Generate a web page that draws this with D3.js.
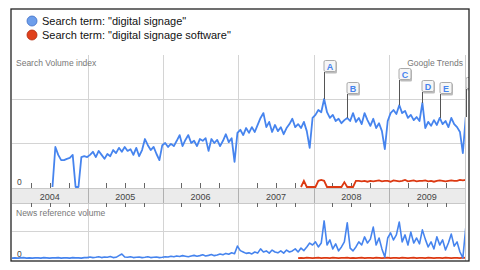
<!DOCTYPE html>
<html>
<head>
<meta charset="utf-8">
<script src="https://cdn.jsdelivr.net/npm/d3@7"></script>
<style>
  html, body { margin: 0; padding: 0; background: #fff; }
  svg { display: block; font-family: "Liberation Sans", Arial, sans-serif; }
</style>
</head>
<body>
<svg id="chart" width="480" height="270"></svg>
<script>
// series labels
const seriesNames = ['Search term: "digital signage"', 'Search term: "digital signage software"'];
const seriesColors = ['#4684ee', '#dc3912'];

// one sample every two weeks, starting 2004-01-01 (158 samples)
const periodStart = new Date(2004, 0, 1);
const periods = d3.range(158).map((i) => d3.timeDay.offset(periodStart, i * 14));

const years = [2004, 2005, 2006, 2007, 2008, 2009];

// search volume index, "digital signage" (null = no data)
const searchSignage = [].concat(
  d3.range(14).map(() => null),
  [0, 0.91, 0.73, 0.61, 0.61, 0.64, 0.66, 0.73, 0, 0, 0.68, 0.70, 0.68],
  [0.73, 0.80, 0.68, 0.82, 0.73, 0.64, 0.75, 0.70, 0.84, 0.77, 0.89, 0.80, 0.91, 0.82, 0.86, 0.73, 0.89, 0.70, 0.84, 1.09, 0.95, 0.84, 0.91, 0.75, 0.61, 0.95],
  [1.00, 0.91, 0.98, 0.93, 1.05, 1.18, 0.93, 1.07, 1.18, 1.00, 1.05, 0.93, 1.09, 1.05, 1.11, 0.82, 1.09, 1.00, 1.07, 0.93, 1.05, 1.20, 1.02, 1.11, 0.57, 1.23],
  [1.30, 1.18, 1.34, 1.23, 1.36, 1.25, 1.41, 1.57, 1.68, 1.36, 1.48, 1.25, 1.41, 1.27, 1.36, 1.20, 1.34, 1.43, 1.55, 1.36, 1.43, 1.34, 1.48, 1.27, 0.89, 1.57],
  [1.64, 1.75, 1.70, 2.00, 1.70, 1.57, 1.64, 1.50, 1.55, 1.45, 1.52, 1.57, 1.50, 1.68, 1.48, 1.57, 1.43, 1.68, 1.52, 1.39, 1.55, 1.34, 1.45, 1.27, 0.86, 1.50],
  [1.68, 1.75, 1.66, 1.86, 1.68, 1.73, 1.57, 1.64, 1.52, 1.59, 1.50, 1.91, 1.34, 1.48, 1.39, 1.52, 1.41, 1.57, 1.43, 1.50, 1.36, 1.57, 1.43, 1.36, 1.25, 0.77, 1.59]
);

// search volume index, "digital signage software"
const searchSoftware = [].concat(
  d3.range(100).map(() => null),
  [0, 0.14, 0, 0, 0, 0, 0.14, 0.16, 0.14, 0, 0, 0, 0, 0, 0, 0.11, 0, 0, 0, 0.14],
  [0.14, 0.13, 0.14, 0.12, 0.14, 0.13, 0.14, 0.15, 0.13, 0.14, 0.14, 0.12, 0.15, 0.14, 0.13, 0.14, 0.16, 0.13, 0.14, 0.15,
   0.13, 0.14, 0.14, 0.15, 0.13, 0.14, 0.12, 0.14, 0.15, 0.14, 0.13, 0.14, 0.15, 0.14, 0.14, 0.16, 0.15, 0.16]
);

// news reference volume, "digital signage"
const newsSignage = [].concat(
  [0.03, 0.04, 0.03, 0.04, 0.05, 0.03, 0.04, 0.03, 0.04, 0.04, 0.03, 0.05, 0.04, 0.03, 0.04, 0.04, 0.05, 0.03, 0.04, 0.04, 0.03, 0.05, 0.04, 0.04, 0.03, 0.05],
  [0.05, 0.07, 0.05, 0.06, 0.08, 0.05, 0.07, 0.06, 0.09, 0.05, 0.06, 0.12, 0.18, 0.07, 0.06, 0.08, 0.05, 0.06, 0.07, 0.05, 0.06, 0.08, 0.05, 0.06, 0.07, 0.05],
  [0.06, 0.08, 0.07, 0.10, 0.08, 0.11, 0.09, 0.12, 0.10, 0.08, 0.11, 0.13, 0.10, 0.12, 0.15, 0.11, 0.13, 0.16, 0.12, 0.14, 0.18, 0.15, 0.20, 0.17, 0.22, 0.19],
  [0.46, 0.30, 0.25, 0.20, 0.22, 0.18, 0.25, 0.21, 0.36, 0.25, 0.29, 0.21, 0.32, 0.25, 0.22, 0.29, 0.21, 0.32, 0.25, 0.29, 0.36, 0.25, 0.39, 0.30, 0.43, 0.57],
  [0.50, 0.61, 0.43, 0.57, 1.36, 0.50, 0.68, 0.36, 0.54, 0.29, 0.43, 0.61, 1.29, 0.39, 0.29, 0.43, 0.61, 0.50, 0.79, 0.57, 0.71, 1.14, 0.50, 0.75, 0.36, 0.07],
  [0.75, 0.93, 0.68, 0.86, 1.32, 0.61, 0.86, 0.50, 0.96, 0.57, 0.75, 0.54, 1.04, 0.71, 0.43, 0.61, 0.36, 0.79, 0.50, 0.68, 0.32, 0.57, 0.89, 0.46, 0.61, 0.25, 0.04, 1.11]
);

// news reference volume, "digital signage software"
const newsSoftware = [].concat(
  d3.range(99).map(() => null),
  [0.03, 0.04, 0.03, 0.05, 0.04, 0.03, 0.04, 0.05, 0.03, 0.04, 0.04, 0.03, 0.05, 0.04, 0.03, 0.04, 0.04, 0.05, 0.03, 0.04,
   0.03, 0.04, 0.05, 0.03, 0.04, 0.04, 0.03, 0.05, 0.04, 0.03, 0.04, 0.05, 0.03, 0.04, 0.04, 0.03, 0.05, 0.04, 0.03, 0.04,
   0.05, 0.03, 0.04, 0.04, 0.03, 0.05, 0.04, 0.03, 0.04, 0.04, 0.03, 0.05, 0.04, 0.03, 0.04, 0.04, 0.03, 0.05, 0.04]
);

// news headline markers: letter and sample index on the search line
const markerLetters = ['A', 'B', 'C', 'D', 'E', 'F'];
const markerPeriods = [108, 116, 134, 142, 148, 157];

const svg = d3.select('#chart');
const frame = { left: 11, top: 9, right: 469, bottom: 261 };
const plotL = 12, plotR = 465;
const main = { top: 55, zero: 187 };
const band = { top: 188, bottom: 203 };
const news = { top: 207, zero: 259 };

const x = d3.scaleTime()
  .domain([new Date(2004, 0, 1), new Date(2010, 0, 1)])
  .range([plotL, 464.5]);
const yMain = d3.scaleLinear().domain([0, 3]).range([main.zero, main.top]);
const yNews = d3.scaleLinear().domain([0, 1]).range([news.zero, news.zero - 28]);

svg.append('defs').append('clipPath').attr('id', 'plotClip')
  .append('rect').attr('x', plotL).attr('y', 0).attr('width', plotR - plotL + 1).attr('height', 270);
svg.append('defs').append('clipPath').attr('id', 'frameClip')
  .append('rect').attr('x', frame.left).attr('y', frame.top).attr('width', frame.right - frame.left).attr('height', frame.bottom - frame.top);

// legend
const legend = svg.append('g');
seriesNames.forEach((name, i) => {
  const cy = 21 + i * 14;
  legend.append('circle').attr('cx', 32).attr('cy', cy).attr('r', 5)
    .attr('fill', i === 0 ? '#6d9eeb' : '#e0401c')
    .attr('stroke', i === 0 ? '#3f6fc7' : '#b02a0e').attr('stroke-width', 0.8);
  legend.append('text').attr('x', 42).attr('y', cy + 4)
    .attr('font-size', 11).attr('fill', '#111').text(name);
});

const yearTicks = years.map((yr) => new Date(yr, 0, 1)).concat([new Date(2010, 0, 1)]);
const quarterTicks = d3.timeMonth.every(3).range(new Date(2004, 0, 1), new Date(2010, 0, 1))
  .filter((d) => d.getMonth() !== 0);

// main panel grid
const grid = svg.append('g').attr('stroke', '#d4d4d4').attr('stroke-width', 1).attr('shape-rendering', 'crispEdges');
[1, 2].forEach((v) => {
  grid.append('line').attr('x1', plotL).attr('x2', plotR)
    .attr('y1', Math.round(yMain(v)) + 0.5).attr('y2', Math.round(yMain(v)) + 0.5);
});
grid.append('line').attr('x1', plotL).attr('x2', plotR)
  .attr('y1', yNews(1) + 0.5).attr('y2', yNews(1) + 0.5);
yearTicks.slice(1).forEach((d) => {
  const xx = Math.round(x(d)) + 0.5;
  grid.append('line').attr('x1', xx).attr('x2', xx).attr('y1', main.top).attr('y2', band.top);
  grid.append('line').attr('x1', xx).attr('x2', xx).attr('y1', band.bottom).attr('y2', news.zero);
});

// year band
svg.append('rect').attr('x', plotL).attr('y', band.top).attr('width', plotR - plotL)
  .attr('height', band.bottom - band.top).attr('fill', '#ebebeb');
svg.append('line').attr('x1', plotL).attr('x2', plotR).attr('y1', band.top + 0.5).attr('y2', band.top + 0.5)
  .attr('stroke', '#c8c8c8');
svg.append('line').attr('x1', plotL).attr('x2', plotR).attr('y1', band.bottom + 0.5).attr('y2', band.bottom + 0.5)
  .attr('stroke', '#c8c8c8');
yearTicks.slice(1).forEach((d) => {
  const xx = Math.round(x(d)) + 0.5;
  svg.append('line').attr('x1', xx).attr('x2', xx).attr('y1', band.top).attr('y2', band.bottom)
    .attr('stroke', '#b0b0b0');
});
svg.append('g').selectAll('text').data(years).join('text')
  .attr('x', (yr) => (x(new Date(yr, 0, 1)) + x(new Date(yr + 1, 0, 1))) / 2)
  .attr('y', 199.5).attr('text-anchor', 'middle')
  .attr('font-size', 9).attr('fill', '#444').text((yr) => yr);

// quarter ticks above and below the band
const ticks = svg.append('g').attr('stroke', '#666').attr('shape-rendering', 'crispEdges');
quarterTicks.forEach((d) => {
  const xx = Math.round(x(d)) + 0.5;
  ticks.append('line').attr('x1', xx).attr('x2', xx).attr('y1', band.top - 5).attr('y2', band.top);
  ticks.append('line').attr('x1', xx).attr('x2', xx).attr('y1', band.bottom).attr('y2', band.bottom + 4);
});

// panel labels
svg.append('text').attr('x', 16).attr('y', 66).attr('font-size', 8.5).attr('fill', '#777').text('Search Volume index');
svg.append('text').attr('x', 463).attr('y', 66).attr('text-anchor', 'end').attr('font-size', 8.5).attr('fill', '#777').text('Google Trends');
svg.append('text').attr('x', 16).attr('y', 216).attr('font-size', 8.5).attr('fill', '#777').text('News reference volume');
svg.append('text').attr('x', 17).attr('y', 185).attr('font-size', 8.5).attr('fill', '#444').text('0');
svg.append('text').attr('x', 17).attr('y', 257).attr('font-size', 8.5).attr('fill', '#444').text('0');

// lines
const lineMain = d3.line().defined((d) => d[1] != null)
  .x((d) => x(d[0])).y((d) => yMain(d[1]));
const lineNews = d3.line().defined((d) => d[1] != null)
  .x((d) => x(d[0])).y((d) => yNews(d[1]));
const pair = (vals) => periods.map((p, i) => [p, vals[i]]);

const lines = svg.append('g').attr('clip-path', 'url(#plotClip)');
lines.append('path').datum(pair(newsSoftware)).attr('d', lineNews)
  .attr('fill', 'none').attr('stroke', seriesColors[1]).attr('stroke-width', 1.6);
lines.append('path').datum(pair(newsSignage)).attr('d', lineNews)
  .attr('fill', 'none').attr('stroke', seriesColors[0]).attr('stroke-width', 1.6).attr('stroke-linejoin', 'round');
lines.append('path').datum(pair(searchSoftware)).attr('d', lineMain)
  .attr('fill', 'none').attr('stroke', seriesColors[1]).attr('stroke-width', 1.8);
lines.append('path').datum(pair(searchSignage)).attr('d', lineMain)
  .attr('fill', 'none').attr('stroke', seriesColors[0]).attr('stroke-width', 1.8).attr('stroke-linejoin', 'round');

// headline markers
const markerTop = [60, 82, 68, 80, 82, 77];
const markers = svg.append('g').attr('clip-path', 'url(#frameClip)');
markerLetters.forEach((letter, i) => {
  const idx = markerPeriods[i];
  const px = Math.round(x(periods[idx])) + 0.5;
  const py = yMain(searchSignage[idx]);
  const top = markerTop[i];
  markers.append('line').attr('x1', px).attr('x2', px).attr('y1', top + 12).attr('y2', py)
    .attr('stroke', '#555').attr('stroke-width', 1);
  markers.append('rect').attr('x', px + 0.5).attr('y', top + 1.5).attr('width', 12).attr('height', 12)
    .attr('rx', 1.5).attr('fill', '#bbb');
  markers.append('rect').attr('x', px - 0.5).attr('y', top + 0.5).attr('width', 12).attr('height', 11)
    .attr('rx', 1.5).attr('fill', '#f6f6f6').attr('stroke', '#aaa');
  markers.append('text').attr('x', px + 5.5).attr('y', top + 9.5).attr('text-anchor', 'middle')
    .attr('font-size', 9).attr('font-weight', 'bold').attr('fill', '#4684ee').text(letter);
});

// frame
svg.append('line').attr('x1', plotR + 0.5).attr('x2', plotR + 0.5).attr('y1', main.top).attr('y2', frame.bottom)
  .attr('stroke', '#ccc');
svg.append('rect').attr('x', frame.left).attr('y', frame.top)
  .attr('width', frame.right - frame.left).attr('height', frame.bottom - frame.top)
  .attr('fill', 'none').attr('stroke', '#222').attr('stroke-width', 1.3);
</script>
</body>
</html>
